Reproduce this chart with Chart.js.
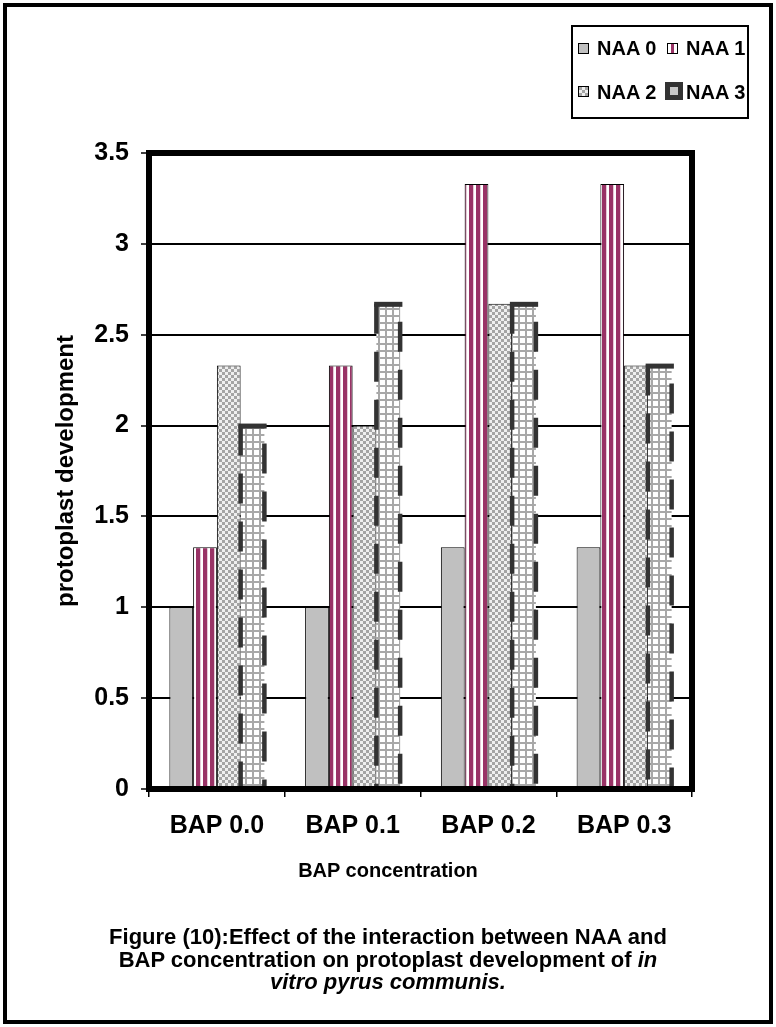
<!DOCTYPE html>
<html>
<head>
<meta charset="utf-8">
<script src="https://cdn.jsdelivr.net/npm/chart.js@4.4.0/dist/chart.umd.min.js"></script>
<style>
  body { margin: 0; background: #fff; font-family: "Liberation Sans", Arial, sans-serif; }
  #page { position: relative; width: 776px; height: 1027px; overflow: hidden; }
  #frame { position: absolute; left: 3px; top: 3px; width: 770px; height: 1021px; box-sizing: border-box; border: 4px solid #000; }
  #chart { position: absolute; left: 0; top: 0; }
  #legend { position: absolute; left: 571px; top: 25px; width: 178px; height: 94px; box-sizing: border-box; border: 2px solid #000; }
  .lbl { position: absolute; font-weight: bold; font-size: 20px; line-height: 20px; white-space: nowrap; color: #000; }
  .sw { position: absolute; box-sizing: border-box; width: 11px; height: 11px; border: 1.5px solid #000; }
  #xtitle { position: absolute; left: 0; width: 776px; top: 860px; text-align: center; font-weight: bold; font-size: 20px; line-height: 20px; }
  #caption { position: absolute; left: 0; width: 776px; top: 926px; text-align: center; font-weight: bold; font-size: 22px; line-height: 22.5px; }
</style>
</head>
<body>
<div id="page">
  <div id="frame"></div>
  <canvas id="chart" width="776" height="1027"></canvas>
  <div id="legend"></div>
  <div class="sw" id="sw0" style="left:578px;top:43px;"></div>
  <div class="lbl" style="left:597px;top:38px;">NAA 0</div>
  <div class="sw" id="sw1" style="left:667px;top:43px;"></div>
  <div class="lbl" style="left:686px;top:38px;">NAA 1</div>
  <div class="sw" id="sw2" style="left:578px;top:86px;"></div>
  <div class="lbl" style="left:597px;top:82px;">NAA 2</div>
  <div class="sw" id="sw3" style="left:665px;top:82px;width:18px;height:18px;border:5px solid #333;"></div>
  <div class="lbl" style="left:686px;top:82px;">NAA 3</div>
  <div id="xtitle">BAP concentration</div>
  <div id="caption">Figure (10):Effect of the interaction between NAA and<br>BAP concentration on protoplast development of <i>in</i><br><i>vitro pyrus communis.</i></div>
</div>
<script>
const categories = ['BAP 0.0', 'BAP 0.1', 'BAP 0.2', 'BAP 0.3'];
const seriesNames = ['NAA 0', 'NAA 1', 'NAA 2', 'NAA 3'];
const naa0 = [1.0, 1.0, 1.33, 1.33];
const naa1 = [1.33, 2.33, 3.33, 3.33];
const naa2 = [2.33, 2.0, 2.67, 2.33];
const naa3 = [2.0, 2.67, 2.67, 2.33];
const yTicks = [0, 0.5, 1, 1.5, 2, 2.5, 3, 3.5];

const makeTile = (w, h, draw) => {
  const c = document.createElement('canvas');
  c.width = w; c.height = h;
  draw(c.getContext('2d'));
  return c;
};

const stripeTile = makeTile(7, 4, g => {
  g.fillStyle = '#ffffff'; g.fillRect(0, 0, 7, 4);
  g.fillStyle = '#993366'; g.fillRect(0, 0, 4, 4);
  g.fillStyle = '#e6c8d6'; g.fillRect(4, 0, 1, 4);
});
const checkTile = makeTile(6, 6, g => {
  g.fillStyle = '#efefef'; g.fillRect(0, 0, 6, 6);
  g.fillStyle = '#a4a4a4'; g.fillRect(0, 0, 3, 3); g.fillRect(3, 3, 3, 3);
});
const gridTile = makeTile(7, 7, g => {
  g.fillStyle = '#ffffff'; g.fillRect(0, 0, 7, 7);
  g.fillStyle = '#a8a8a8'; g.fillRect(0, 0, 2, 7); g.fillRect(0, 0, 7, 2);
});

const pctx = document.createElement('canvas').getContext('2d');
const stripes = pctx.createPattern(stripeTile, 'repeat');
const checks = pctx.createPattern(checkTile, 'repeat');
const grid = pctx.createPattern(gridTile, 'repeat');

document.getElementById('sw0').style.background = '#c0c0c0';
document.getElementById('sw1').style.background = 'linear-gradient(to right, #fff 0 35%, #993366 35% 70%, #fff 70%)';
document.getElementById('sw2').style.background = `url(${checkTile.toDataURL()})`;
document.getElementById('sw3').style.background = '#c8c8c8';

const plotDecor = {
  id: 'plotDecor',
  afterDatasetsDraw(chart) {
    const ctx = chart.ctx;
    const meta = chart.getDatasetMeta(3);
    ctx.save();
    ctx.strokeStyle = '#333333';
    ctx.fillStyle = '#333333';
    ctx.lineWidth = 4.5;
    meta.data.forEach(bar => {
      const { x, y, base, width } = bar.getProps(['x', 'y', 'base', 'width'], true);
      const l = x - width / 2, r = x + width / 2;
      ctx.setLineDash([30, 18]);
      ctx.lineDashOffset = 0;
      ctx.beginPath(); ctx.moveTo(l, y); ctx.lineTo(l, base); ctx.stroke();
      ctx.lineDashOffset = 30;
      ctx.beginPath(); ctx.moveTo(r, y); ctx.lineTo(r, base); ctx.stroke();
      ctx.setLineDash([]);
      ctx.fillRect(l - 2.25, y - 2, width + 4.5, 5);
    });
    const a = chart.chartArea;
    ctx.strokeStyle = '#000';
    ctx.lineWidth = 6;
    ctx.strokeRect(a.left, a.top, a.right - a.left, a.bottom - a.top);
    ctx.restore();
  }
};

const tickFont = { family: 'Liberation Sans', size: 25, weight: 'bold' };

new Chart(document.getElementById('chart'), {
  type: 'bar',
  data: {
    labels: categories,
    datasets: [
      { label: seriesNames[0], data: naa0, backgroundColor: '#c0c0c0', borderColor: '#000', borderWidth: 1 },
      { label: seriesNames[1], data: naa1, backgroundColor: stripes, borderColor: '#000', borderWidth: 1 },
      { label: seriesNames[2], data: naa2, backgroundColor: checks, borderColor: '#000', borderWidth: 1 },
      { label: seriesNames[3], data: naa3, backgroundColor: grid, borderWidth: 0 }
    ]
  },
  options: {
    responsive: false,
    animation: false,
    events: [],
    layout: { padding: { left: 0, top: 153, right: 84, bottom: 178 } },
    datasets: { bar: { categoryPercentage: 0.7, barPercentage: 1.0 } },
    plugins: { legend: { display: false }, tooltip: { enabled: false } },
    scales: {
      x: {
        afterFit: s => { s.height = 60; },
        border: { display: false },
        grid: { drawOnChartArea: false, drawTicks: true, tickLength: 8, color: '#000', lineWidth: 1.5 },
        ticks: { font: tickFont, color: '#000', padding: 14, maxRotation: 0, autoSkip: false }
      },
      y: {
        min: 0,
        max: 3.5,
        afterFit: s => { s.width = 149; },
        afterBuildTicks: s => { s.ticks = yTicks.map(v => ({ value: v })); },
        border: { display: false },
        grid: { color: '#000', lineWidth: 2, drawTicks: true, tickLength: 8, tickColor: '#000', tickWidth: 1.5 },
        ticks: { font: tickFont, color: '#000', padding: 12, callback: v => String(v) },
        title: {
          display: true,
          text: 'protoplast development',
          color: '#000',
          font: { family: 'Liberation Sans', size: 24, weight: 'bold' },
          padding: { top: 52, bottom: 0 }
        }
      }
    }
  },
  plugins: [plotDecor]
});
</script>
</body>
</html>
